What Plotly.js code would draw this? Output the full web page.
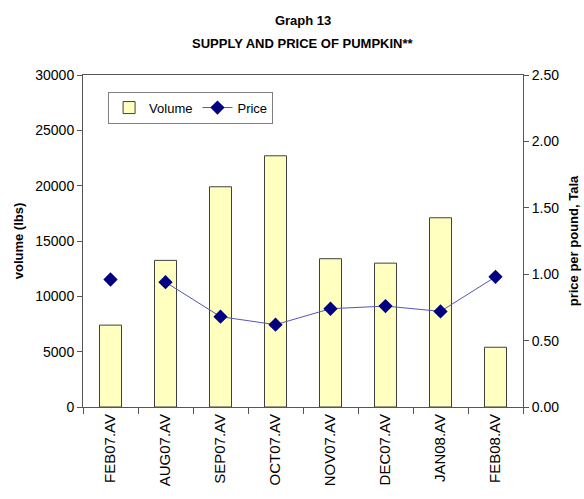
<!DOCTYPE html>
<html>
<head>
<meta charset="utf-8">
<script src="https://cdn.plot.ly/plotly-3.0.1.min.js"></script>
<style>html,body{margin:0;padding:0;background:#fff;}#chart{width:584px;height:499px;}</style>
</head>
<body>
<div id="chart"></div>
<script>
const categories = ["FEB07.AV","AUG07.AV","SEP07.AV","OCT07.AV","NOV07.AV","DEC07.AV","JAN08.AV","FEB08.AV"];
const volume = [7400, 13250, 19900, 22700, 13400, 13000, 17100, 5400];
const price = [0.96, 0.94, 0.68, 0.62, 0.74, 0.76, 0.72, 0.98];
const leftTicks = [0, 5000, 10000, 15000, 20000, 25000, 30000];
const rightTicks = [0, 0.5, 1.0, 1.5, 2.0, 2.5];
const titleLine1 = "Graph 13";
const titleLine2 = "SUPPLY AND PRICE OF PUMPKIN**";

const F = "Liberation Sans, Arial, sans-serif";
const axisColor = "#555555";

const traces = [
  {
    type: "bar", name: "Volume", x: categories, y: volume, width: 0.4,
    marker: {color: "#FFFFC0", line: {color: "#404040", width: 1}},
    yaxis: "y"
  },
  {
    type: "scatter", mode: "markers", name: "Price", x: categories.slice(0, 1), y: price.slice(0, 1),
    marker: {symbol: "diamond", size: 11, color: "#000080"}, showlegend: false, yaxis: "y2"
  },
  {
    type: "scatter", mode: "lines+markers", name: "Price", x: categories.slice(1), y: price.slice(1),
    line: {color: "#5555BB", width: 1},
    marker: {symbol: "diamond", size: 11, color: "#000080"}, yaxis: "y2"
  }
];

const layout = {
  width: 584, height: 499,
  margin: {l: 83, r: 61, t: 75, b: 92},
  paper_bgcolor: "#ffffff", plot_bgcolor: "#ffffff",
  font: {family: F, size: 13, color: "#000"},
  title: {
    text: "<b>" + titleLine1 + "</b>",
    font: {family: F, size: 13, color: "#000"},
    x: 0.519, xanchor: "center", y: 0.96, yanchor: "middle"
  },
  annotations: [{
    text: "<b>" + titleLine2 + "</b>", xref: "paper", yref: "paper",
    x: 0.5, y: 1.096, xanchor: "center", yanchor: "middle", showarrow: false,
    font: {family: F, size: 13, color: "#000"}
  }],
  showlegend: true,
  legend: {
    orientation: "h", x: 0.057, y: 0.95, xanchor: "left", yanchor: "top",
    bgcolor: "#ffffff", bordercolor: "#808080", borderwidth: 1,
    itemwidth: 30, tracegroupgap: 0,
    font: {family: F, size: 13, color: "#000"}
  },
  xaxis: {
    type: "category", tickson: "boundaries", ticks: "outside", ticklen: 6, tickcolor: axisColor,
    tickangle: -90, tickfont: {family: F, size: 15, color: "#000"},
    showline: true, linecolor: axisColor, linewidth: 1, mirror: true,
    showgrid: false, zeroline: false, range: [-0.5, 7.5]
  },
  yaxis: {
    range: [0, 30000], tickvals: leftTicks, tickformat: "d", ticks: "outside", ticklen: 5, tickcolor: axisColor,
    showline: true, linecolor: axisColor, showgrid: false, zeroline: false,
    tickfont: {family: F, size: 14, color: "#000"},
    title: {text: "<b>volume (lbs)</b>", font: {family: F, size: 13, color: "#000"}, standoff: 8}
  },
  yaxis2: {
    overlaying: "y", side: "right", range: [0, 2.5], tickvals: rightTicks, tickformat: ".2f",
    ticks: "outside", ticklen: 5, tickcolor: axisColor,
    showline: true, linecolor: axisColor, showgrid: false, zeroline: false,
    tickfont: {family: F, size: 14, color: "#000"},
    title: {text: "<b>price per pound, Tala</b>", font: {family: F, size: 13, color: "#000"}, standoff: 10}
  }
};

Plotly.newPlot("chart", traces, layout, {displayModeBar: false, staticPlot: true});
</script>
</body>
</html>
